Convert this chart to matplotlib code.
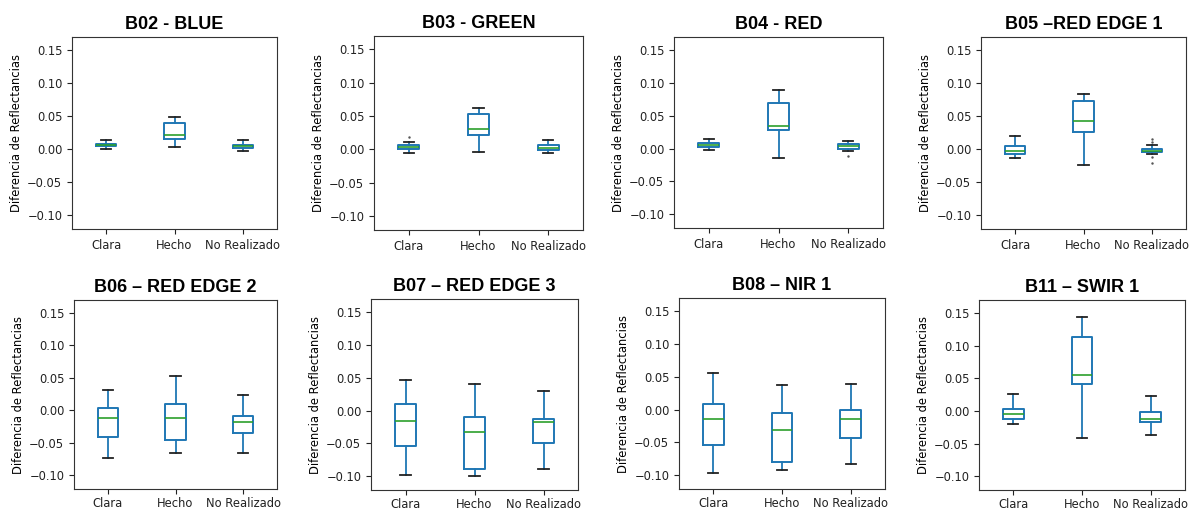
import matplotlib
matplotlib.use("Agg")
import matplotlib.pyplot as plt

titles = ["B02 - BLUE", "B03 - GREEN", "B04 - RED", "B05 \u2013RED EDGE 1",
          "B06 \u2013 RED EDGE 2", "B07 \u2013 RED EDGE 3", "B08 \u2013 NIR 1", "B11 \u2013 SWIR 1"]
categories = ["Clara", "Hecho", "No Realizado"]

# one row per band, one value per category (Clara, Hecho, No Realizado)
whislo = [[0.000, 0.003, -0.0025],
          [-0.006, -0.004, -0.006],
          [-0.002, -0.0143, -0.004],
          [-0.014, -0.0237, -0.0066],
          [-0.073, -0.066, -0.066],
          [-0.0985, -0.100, -0.089],
          [-0.0965, -0.0925, -0.0825],
          [-0.0196, -0.0417, -0.036]]
q1 = [[0.0045, 0.016, 0.0015],
      [0.001, 0.021, -0.001],
      [0.003, 0.029, 0.000],
      [-0.0076, 0.026, -0.005],
      [-0.041, -0.046, -0.035],
      [-0.0535, -0.089, -0.050],
      [-0.054, -0.0805, -0.0435],
      [-0.013, 0.0407, -0.0176]]
med = [[0.0065, 0.021, 0.0045],
       [0.003, 0.030, 0.002],
       [0.005, 0.034, 0.0036],
       [-0.0025, 0.043, -0.0025],
       [-0.012, -0.012, -0.018],
       [-0.016, -0.032, -0.0175],
       [-0.0145, -0.0305, -0.0145],
       [-0.005, 0.0553, -0.013]]
q3 = [[0.0085, 0.0404, 0.0066],
      [0.007, 0.053, 0.007],
      [0.0087, 0.070, 0.0066],
      [0.005, 0.0732, 0.000],
      [0.0035, 0.0096, -0.009],
      [0.0095, -0.0095, -0.0125],
      [0.009, -0.0055, 0.000],
      [0.0035, 0.114, -0.002]]
whishi = [[0.0136, 0.048, 0.0136],
          [0.0105, 0.0625, 0.014],
          [0.0143, 0.0888, 0.012],
          [0.0207, 0.0838, 0.006],
          [0.032, 0.0535, 0.0237],
          [0.0465, 0.041, 0.0305],
          [0.055, 0.0375, 0.039],
          [0.0266, 0.1447, 0.0231]]
fliers = [[[], [], []],
          [[0.018], [], []],
          [[], [], [-0.0117]],
          [[], [], [0.016, 0.011, -0.012, -0.021]],
          [[], [], []],
          [[], [], []],
          [[], [], []],
          [[], [], []]]

# axes boxes in pixels: left, right, top, bottom
boxes = [(72, 277, 37, 229), (374, 583, 36, 230), (674, 883, 37, 228), (981, 1186, 37, 229),
         (74, 277, 300, 489), (371, 578, 299, 490), (679, 885, 298, 489), (979, 1185, 300, 490)]

W, H = 1191, 511
fig = plt.figure(figsize=(W / 100, H / 100), dpi=100)

blue = "#1f77b4"
for i, title in enumerate(titles):
    l, r, t, b = boxes[i]
    ax = fig.add_axes([l / W, 1 - b / H, (r - l) / W, (b - t) / H])
    stats = []
    for j, cat in enumerate(categories):
        stats.append(dict(label=cat, whislo=whislo[i][j], q1=q1[i][j], med=med[i][j],
                          q3=q3[i][j], whishi=whishi[i][j], fliers=fliers[i][j]))
    ax.bxp(stats, widths=0.3,
           boxprops=dict(color=blue, linewidth=1.4),
           whiskerprops=dict(color=blue, linewidth=1.3),
           capprops=dict(color="#222222", linewidth=1.3),
           medianprops=dict(color="#2ca02c", linewidth=1.2),
           flierprops=dict(marker=".", markersize=1.5, markeredgecolor="#555555",
                           markerfacecolor="#555555", linestyle="none"))
    ax.set_ylim(-0.121, 0.17)
    ax.set_yticks([-0.10, -0.05, 0.00, 0.05, 0.10, 0.15])
    ax.tick_params(labelsize=8.3, colors="#222222")
    if i >= 4:
        ax.tick_params(axis="x", pad=2)
    ax.set_ylabel("Diferencia de Reflectancias", fontsize=8.3, labelpad=3)
    ax.set_title(title, fontsize=13, fontweight="bold", family="Liberation Sans", pad=6)
    for s in ax.spines.values():
        s.set_color("#333333")

fig.savefig("out.png", dpi=100)
